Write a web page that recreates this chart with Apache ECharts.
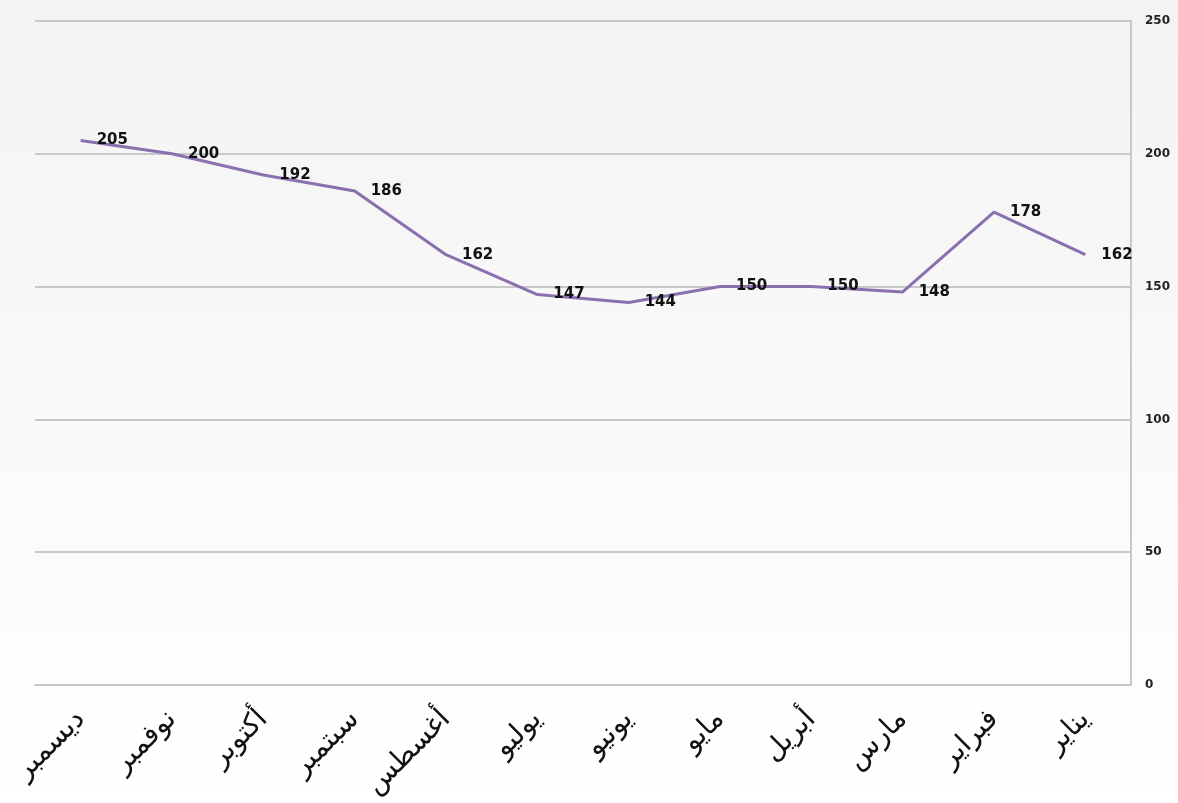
<!DOCTYPE html>
<html>
<head>
<meta charset="utf-8">
<script src="https://cdn.jsdelivr.net/npm/echarts@6/dist/echarts.min.js"></script>
<style>
  html, body { margin: 0; padding: 0; }
  #chart { width: 1178px; height: 803px; }
</style>
</head>
<body>
<div id="chart"></div>
<script>
// Months in calendar order; the axis is drawn right-to-left
const months = ['يناير', 'فبراير', 'مارس', 'أبريل', 'مايو', 'يونيو', 'يوليو', 'أغسطس', 'سبتمبر', 'أكتوبر', 'نوفمبر', 'ديسمبر'];
const values = [162, 178, 148, 150, 150, 144, 147, 162, 186, 192, 200, 205];
const yTicks = [0, 50, 100, 150, 200, 250];

const chart = echarts.init(document.getElementById('chart'));
chart.setOption({
  backgroundColor: {
    type: 'linear', x: 0, y: 0, x2: 0, y2: 1,
    colorStops: [{ offset: 0, color: '#f3f3f3' }, { offset: 1, color: '#ffffff' }]
  },
  grid: { left: 35, right: 47, top: 21, bottom: 118, containLabel: false },
  xAxis: {
    type: 'category',
    data: months,
    inverse: true,
    boundaryGap: true,
    axisLine: { show: true, lineStyle: { color: '#c8c8c8', width: 2 } },
    axisTick: { show: false },
    axisLabel: {
      rotate: 45,
      margin: 30,
      interval: 0,
      color: '#111',
      fontSize: 28,
      fontFamily: 'DejaVu Sans'
    }
  },
  yAxis: {
    type: 'value',
    position: 'right',
    min: yTicks[0],
    max: yTicks[yTicks.length - 1],
    interval: 50,
    axisLine: { show: true, lineStyle: { color: '#c8c8c8', width: 2 } },
    axisTick: { show: false },
    splitLine: { show: true, lineStyle: { color: '#c8c8c8', width: 2 } },
    axisLabel: {
      margin: 14,
      color: '#222',
      fontSize: 12,
      fontWeight: 'bold',
      fontFamily: 'DejaVu Sans'
    }
  },
  series: [{
    type: 'line',
    data: values,
    symbol: 'circle',
    symbolSize: 0,
    lineStyle: { color: '#8a70ae', width: 3 },
    itemStyle: { color: '#8a70ae' },
    label: {
      show: true,
      position: 'right',
      distance: 16,
      color: '#111',
      fontSize: 15,
      fontWeight: 'bold',
      fontFamily: 'DejaVu Sans'
    },
    animation: false
  }],
  animation: false
});
</script>
</body>
</html>
